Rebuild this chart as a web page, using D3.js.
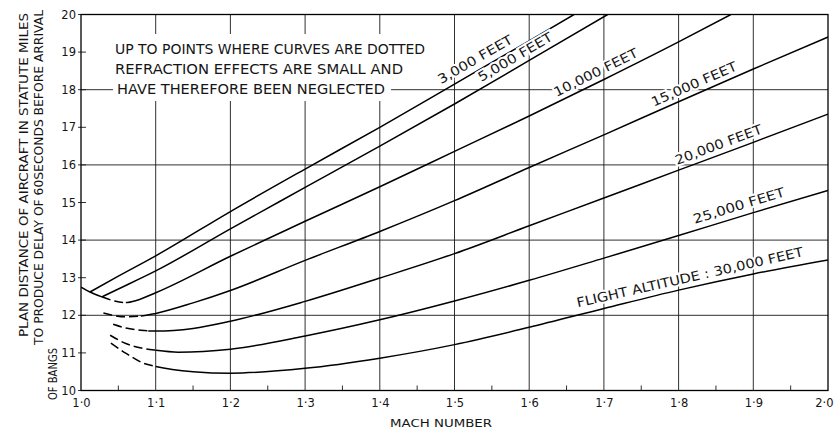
<!DOCTYPE html>
<html>
<head>
<meta charset="utf-8">
<script src="https://cdn.jsdelivr.net/npm/d3@7"></script>
<style>
  html, body { margin: 0; padding: 0; background: #fff; }
  svg { display: block; }
  text { font-family: "DejaVu Sans", "Liberation Sans", sans-serif; fill: #151515; }
</style>
</head>
<body>
<svg id="chart" width="834" height="436"></svg>
<script>
// Plan distance (statute miles) against Mach number, one curve per flight altitude.
const mach3000  = [1.012, 1.05, 1.1, 1.2, 1.3, 1.4, 1.5, 1.6, 1.66];
const dist3000  = [12.62, 13.04, 13.58, 14.76, 15.89, 17.0, 18.15, 19.3, 20.0];

const mach5000  = [1.028, 1.05, 1.1, 1.2, 1.3, 1.4, 1.5, 1.6, 1.705];
const dist5000  = [12.49, 12.7, 13.18, 14.3, 15.4, 16.5, 17.62, 18.78, 20.0];

const mach10000 = [1.0, 1.012, 1.028, 1.045, 1.06, 1.075, 1.1, 1.2, 1.3, 1.4, 1.5, 1.6, 1.7, 1.8, 1.87];
const dist10000 = [12.75, 12.62, 12.49, 12.38, 12.34, 12.4, 12.6, 13.57, 14.5, 15.42, 16.36, 17.3, 18.27, 19.27, 20.0];

const mach15000 = [1.03, 1.045, 1.06, 1.08, 1.1, 1.15, 1.2, 1.3, 1.4, 1.5, 1.6, 1.7, 1.8, 1.9, 2.0];
const dist15000 = [12.06, 11.99, 11.96, 11.98, 12.05, 12.33, 12.66, 13.46, 14.23, 15.05, 15.93, 16.8, 17.68, 18.55, 19.4];

const mach20000 = [1.043, 1.06, 1.08, 1.1, 1.15, 1.2, 1.3, 1.4, 1.5, 1.6, 1.7, 1.8, 1.9, 2.0];
const dist20000 = [11.76, 11.66, 11.6, 11.58, 11.65, 11.84, 12.37, 12.99, 13.64, 14.38, 15.12, 15.86, 16.6, 17.35];

const mach25000 = [1.039, 1.06, 1.083, 1.1, 1.13, 1.2, 1.3, 1.4, 1.5, 1.6, 1.7, 1.8, 1.9, 2.0];
const dist25000 = [11.47, 11.25, 11.12, 11.07, 11.02, 11.1, 11.45, 11.88, 12.38, 12.93, 13.52, 14.12, 14.73, 15.32];

const mach30000 = [1.04, 1.061, 1.083, 1.1, 1.15, 1.2, 1.3, 1.4, 1.5, 1.6, 1.7, 1.8, 1.9, 2.0];
const dist30000 = [11.26, 10.98, 10.73, 10.64, 10.5, 10.46, 10.59, 10.86, 11.22, 11.68, 12.18, 12.67, 13.1, 13.47];

// Mach range over which each curve is dotted (refraction not negligible)
const dottedFrom = [null, null, 1.028, 1.03, 1.043, 1.039, 1.04];
const dottedTo   = [null, null, 1.06, 1.08, 1.09, 1.1, 1.1];

const altitudeLabels = ["3,000 FEET", "5,000 FEET", "10,000 FEET", "15,000 FEET",
                        "20,000 FEET", "25,000 FEET", "FLIGHT ALTITUDE : 30,000 FEET"];

const xTicks = [1.0, 1.1, 1.2, 1.3, 1.4, 1.5, 1.6, 1.7, 1.8, 1.9, 2.0];
const xTickLabels = ["1·0", "1·1", "1·2", "1·3", "1·4", "1·5", "1·6", "1·7", "1·8", "1·9", "2·0"];
const yTicks = [10, 11, 12, 13, 14, 15, 16, 17, 18, 19, 20];
const yGrid = [12, 14, 16, 18];

const noteLines = ["UP TO POINTS WHERE CURVES ARE DOTTED",
                   "REFRACTION  EFFECTS ARE SMALL AND",
                   "HAVE THEREFORE BEEN NEGLECTED"];
const yTitleLines = ["PLAN DISTANCE OF AIRCRAFT IN STATUTE MILES",
                     "TO PRODUCE DELAY OF 60SECONDS BEFORE ARRIVAL",
                     "OF BANGS"];
const xTitle = "MACH NUMBER";

// ---------------------------------------------------------------
const svg = d3.select("#chart");
svg.append("rect").attr("width", 834).attr("height", 436).attr("fill", "#fff");

const x = d3.scaleLinear().domain([1.0, 2.0]).range([81, 828]);
const y = d3.scaleLinear().domain([10, 20]).range([390.5, 14.5]);

// grid
const grid = svg.append("g").attr("stroke", "#1a1a1a").attr("stroke-width", 0.9);
grid.selectAll("line.v").data(xTicks.slice(1, -1)).join("line")
  .attr("x1", d => x(d)).attr("x2", d => x(d))
  .attr("y1", y(10)).attr("y2", y(20));
grid.selectAll("line.h").data(yGrid).join("line")
  .attr("x1", x(1.0)).attr("x2", x(2.0))
  .attr("y1", d => y(d)).attr("y2", d => y(d));

// minor ticks on the Mach axis
const minor = x.ticks(20).filter(t => !xTicks.some(m => Math.abs(m - t) < 1e-6));
svg.append("g").attr("stroke", "#1a1a1a").attr("stroke-width", 0.9)
  .selectAll("line").data(minor).join("line")
  .attr("x1", d => x(d)).attr("x2", d => x(d))
  .attr("y1", y(10)).attr("y2", y(10) - 5);

// short ticks on the distance axis
svg.append("g").attr("stroke", "#1a1a1a").attr("stroke-width", 0.9)
  .selectAll("line").data(yTicks).join("line")
  .attr("x1", x(1.0) - 3).attr("x2", x(1.0) + 5)
  .attr("y1", d => y(d)).attr("y2", d => y(d));

// note block, cut out of the grid
const note = svg.append("g");
note.append("rect").attr("x", 104).attr("y", 34).attr("width", 332).attr("height", 67).attr("fill", "#fff");
note.append("line").attr("stroke", "#1a1a1a").attr("stroke-width", 0.9)
  .attr("x1", 104).attr("x2", 113).attr("y1", y(18)).attr("y2", y(18));
note.append("line").attr("stroke", "#1a1a1a").attr("stroke-width", 0.9)
  .attr("x1", 391).attr("x2", 436).attr("y1", y(18)).attr("y2", y(18));
const noteX = [115, 115, 117];
const noteY = [54, 74, 93.5];
const noteLen = [310, 288, 268];
note.selectAll("text").data(noteLines).join("text")
  .attr("x", (d, i) => noteX[i]).attr("y", (d, i) => noteY[i])
  .attr("font-size", 14)
  .attr("textLength", (d, i) => noteLen[i]).attr("lengthAdjust", "spacingAndGlyphs")
  .text(d => d);

// frame
svg.append("rect")
  .attr("x", x(1.0)).attr("y", y(20))
  .attr("width", x(2.0) - x(1.0)).attr("height", y(10) - y(20))
  .attr("fill", "none").attr("stroke", "#000").attr("stroke-width", 1.3);

// axes labels through d3 axes
const gx = svg.append("g").attr("transform", `translate(0,${y(10)})`)
  .call(d3.axisBottom(x).tickValues(xTicks).tickFormat((d, i) => xTickLabels[i]).tickSize(0).tickPadding(8));
gx.select(".domain").remove();
gx.selectAll("text").attr("font-size", 11.5).attr("fill", "#151515")
  .attr("font-family", "DejaVu Sans, sans-serif");
// last label sits against the right edge of the page
gx.selectAll(".tick").filter(d => d === 2.0).select("text")
  .attr("text-anchor", "end").attr("x", 5);

const gy = svg.append("g").attr("transform", `translate(${x(1.0)},0)`)
  .call(d3.axisLeft(y).tickValues(yTicks).tickFormat(d => String(d)).tickSize(0).tickPadding(5));
gy.select(".domain").remove();
gy.selectAll("text").attr("font-size", 11.5).attr("fill", "#151515")
  .attr("font-family", "DejaVu Sans, sans-serif");

// axis titles
svg.append("text").attr("x", 441).attr("y", 427).attr("text-anchor", "middle")
  .attr("font-size", 11).attr("textLength", 102).attr("lengthAdjust", "spacingAndGlyphs")
  .text(xTitle);
const yTitleX = [23, 38, 52];
const yTitleStart = [337, 345, 400];
const yTitleLen = [324, 335, 52];
svg.append("g").selectAll("text").data(yTitleLines).join("text")
  .attr("transform", (d, i) => `translate(${yTitleX[i]},${yTitleStart[i]}) rotate(-90)`)
  .attr("dominant-baseline", "central")
  .attr("font-size", 12.5)
  .attr("textLength", (d, i) => yTitleLen[i]).attr("lengthAdjust", "spacingAndGlyphs")
  .text(d => d);

// curves
const machs = [mach3000, mach5000, mach10000, mach15000, mach20000, mach25000, mach30000];
const dists = [dist3000, dist5000, dist10000, dist15000, dist20000, dist25000, dist30000];
const series = machs.map((m, i) => m.map((v, j) => [v, dists[i][j]]));

svg.append("defs").append("clipPath").attr("id", "plot")
  .append("rect").attr("x", x(1.0)).attr("y", y(20))
  .attr("width", x(2.0) - x(1.0)).attr("height", y(10) - y(20));

const line = d3.line().x(d => x(d[0])).y(d => y(d[1])).curve(d3.curveMonotoneX);
const curves = svg.append("g").attr("clip-path", "url(#plot)");
const paths = curves.selectAll("path").data(series).join("path")
  .attr("d", line)
  .attr("fill", "none").attr("stroke", "#000").attr("stroke-width", 1.5);

function lengthAtX(path, tx) {
  let lo = 0, hi = path.getTotalLength();
  for (let k = 0; k < 40; k++) {
    const mid = (lo + hi) / 2;
    if (path.getPointAtLength(mid).x < tx) lo = mid; else hi = mid;
  }
  return lo;
}

// dotted early stretches
paths.each(function (d, i) {
  if (dottedFrom[i] == null) return;
  const total = this.getTotalLength();
  const a = lengthAtX(this, x(dottedFrom[i]));
  const b = lengthAtX(this, x(dottedTo[i]));
  const dash = 9, gap = 4;
  const arr = [];
  if (a > 0.5) arr.push(a, 0);
  for (let p = a; p < b; p += dash + gap) {
    arr.push(Math.min(dash, b - p), Math.max(0, Math.min(gap, b - p - dash)));
  }
  arr.push(total + 10, 0);
  d3.select(this).attr("stroke-dasharray", arr.map(v => v.toFixed(2)).join(" "));
});

// altitude labels along their curves
const labelMach = [1.535, 1.588, 1.695, 1.826, 1.858, 1.885, 1.818];
const labelOffset = [11, 10, 10, 10, 10, 11, 10];
const labelLen = [84, 84, 92, 92, 92, 95, 232];
const labels = svg.append("g");
paths.each(function (d, i) {
  const len = lengthAtX(this, x(labelMach[i]));
  const p = this.getPointAtLength(len);
  const p1 = this.getPointAtLength(Math.max(0, len - 6));
  const p2 = this.getPointAtLength(len + 6);
  const a = Math.atan2(p2.y - p1.y, p2.x - p1.x);
  const cx = p.x + labelOffset[i] * Math.sin(a);
  const cy = p.y - labelOffset[i] * Math.cos(a);
  labels.append("text")
    .attr("transform", `translate(${cx},${cy}) rotate(${a * 180 / Math.PI})`)
    .attr("text-anchor", "middle").attr("dominant-baseline", "central")
    .attr("font-size", 13)
    .attr("textLength", labelLen[i]).attr("lengthAdjust", "spacingAndGlyphs")
    .attr("stroke", "#fff").attr("stroke-width", 4).attr("paint-order", "stroke")
    .text(altitudeLabels[i]);
});
</script>
</body>
</html>
